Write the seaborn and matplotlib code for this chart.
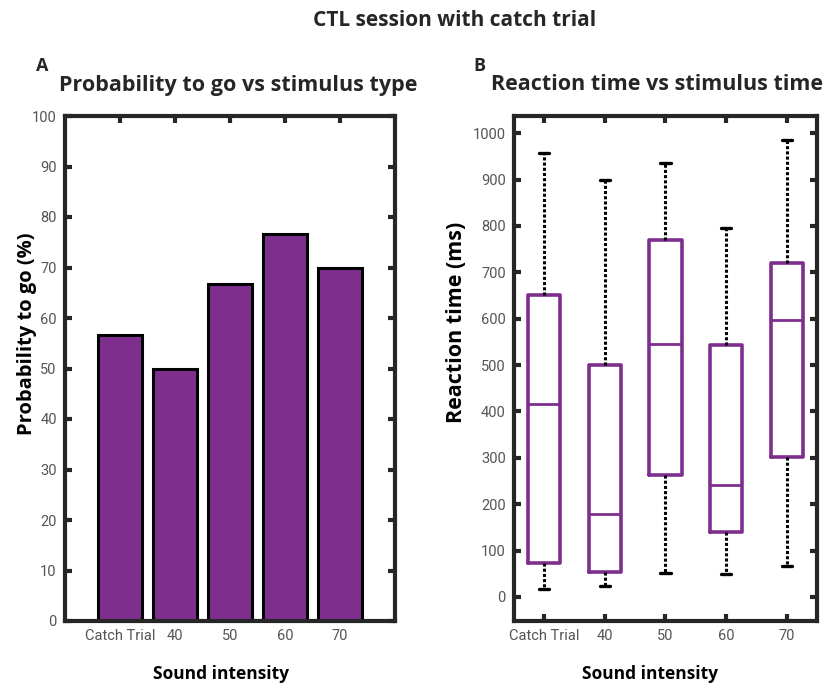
import numpy as np
import pandas as pd
import matplotlib
matplotlib.use("Agg")
import matplotlib.pyplot as plt
import seaborn as sns

# Stimulus categories
categories = ["Catch Trial", "40", "50", "60", "70"]

# Panel A: probability to go (%)
prob_go = [56.7, 50.0, 66.7, 76.7, 70.0]

# Panel B: reaction time summaries (ms) per category
rt_min = [17, 24, 52, 49, 67]
rt_q1 = [73, 53, 263, 141, 302]
rt_median = [415, 178, 545, 241, 597]
rt_q3 = [650, 500, 770, 543, 721]
rt_max = [958, 900, 935, 795, 985]

prob_ticks = list(range(0, 101, 10))
rt_ticks = list(range(0, 1001, 100))

purple = "#7E2F8E"
frame_color = "#262626"
tick_label_color = "#555555"

sns.set_theme(style="white")
plt.rcParams["font.family"] = ["Open Sans", "DejaVu Sans"]

fig = plt.figure(figsize=(8.28, 6.95), dpi=100)
fig.patch.set_facecolor("white")

W, H = 828, 695


def px_axes(left, top, right, bottom):
    return fig.add_axes([left / W, 1 - bottom / H, (right - left) / W, (bottom - top) / H])


axA = px_axes(65, 116, 395, 621)
axB = px_axes(514, 116, 817, 621)

tick_font = ["Roboto", "DejaVu Sans"]

# ---- Panel A: bar chart ----
bar_df = pd.DataFrame({"intensity": categories, "prob": prob_go})
sns.barplot(data=bar_df, x="intensity", y="prob", order=categories, color=purple,
            saturation=1, edgecolor="black", linewidth=2.2, width=0.8, ax=axA)
axA.set_xlim(-1, 5)
axA.set_ylim(0, 100)
axA.set_yticks(prob_ticks)

# ---- Panel B: box plot built from five-number summaries ----
rows = []
for cat, lo, q1, med, q3, hi in zip(categories, rt_min, rt_q1, rt_median, rt_q3, rt_max):
    for v in (lo, q1, med, q3, hi):
        rows.append({"intensity": cat, "rt": v})
box_df = pd.DataFrame(rows)

sns.boxplot(data=box_df, x="intensity", y="rt", order=categories, whis=(0, 100),
            fill=False, color=purple, linecolor=purple, width=0.53, linewidth=2.6,
            showfliers=False,
            whiskerprops=dict(color="black", linestyle=(0, (1, 0.7)), linewidth=2.2),
            capprops=dict(color="black", linewidth=2.4),
            medianprops=dict(color=purple, linewidth=2),
            capwidths=0.17,
            ax=axB)
axB.set_xlim(-0.5, 4.5)
axB.set_ylim(-52, 1037)
axB.set_yticks(rt_ticks)

# ---- Shared styling ----
for ax in (axA, axB):
    for sp in ax.spines.values():
        sp.set_visible(True)
        sp.set_color(frame_color)
        sp.set_linewidth(3)
    ax.tick_params(axis="both", direction="in", top=True, right=True, bottom=True, left=True,
                   length=5, width=3, color=frame_color, labelcolor=tick_label_color,
                   labelsize=10.5, pad=6)
    for lab in ax.get_xticklabels() + ax.get_yticklabels():
        lab.set_fontfamily(tick_font)
    ax.set_xlabel("Sound intensity", fontsize=12.5, fontweight="bold", color="black")

axA.tick_params(axis="x", which="both", bottom=False)
axA.set_ylabel("Probability to go (%)", fontsize=14.5, fontweight="bold", color="black")
axB.set_ylabel("Reaction time (ms)", fontsize=15.5, fontweight="bold", color="black")

# Label placement (axes coordinates)
axA.xaxis.set_label_coords((221 - 65) / 330, -(674 - 621) / 505)
axB.xaxis.set_label_coords((650 - 514) / 303, -(674 - 621) / 505)
axA.yaxis.set_label_coords((27 - 65) / 330, (621 - 334) / 505)
axB.yaxis.set_label_coords((457 - 514) / 303, (621 - 322) / 505)
for ax in (axA, axB):
    ax.xaxis.label.set_va("center")
    ax.yaxis.label.set_va("center")

# Panel titles and letters
fig.text(238 / W, 1 - 85 / H, "Probability to go vs stimulus type", fontsize=15.5,
         fontweight="bold", ha="center", va="center")
fig.text(657 / W, 1 - 85 / H, "Reaction time vs stimulus time", fontsize=15.5,
         fontweight="bold", ha="center", va="center")
fig.text(42 / W, 1 - 66 / H, "A", fontsize=13, fontweight="bold", ha="center", va="center")
fig.text(479 / W, 1 - 66 / H, "B", fontsize=13, fontweight="bold", ha="center", va="center")
fig.text(455 / W, 1 - 20 / H, "CTL session with catch trial", fontsize=15, fontweight="bold",
         ha="center", va="center")

fig.savefig("out.png", dpi=100, facecolor="white")
